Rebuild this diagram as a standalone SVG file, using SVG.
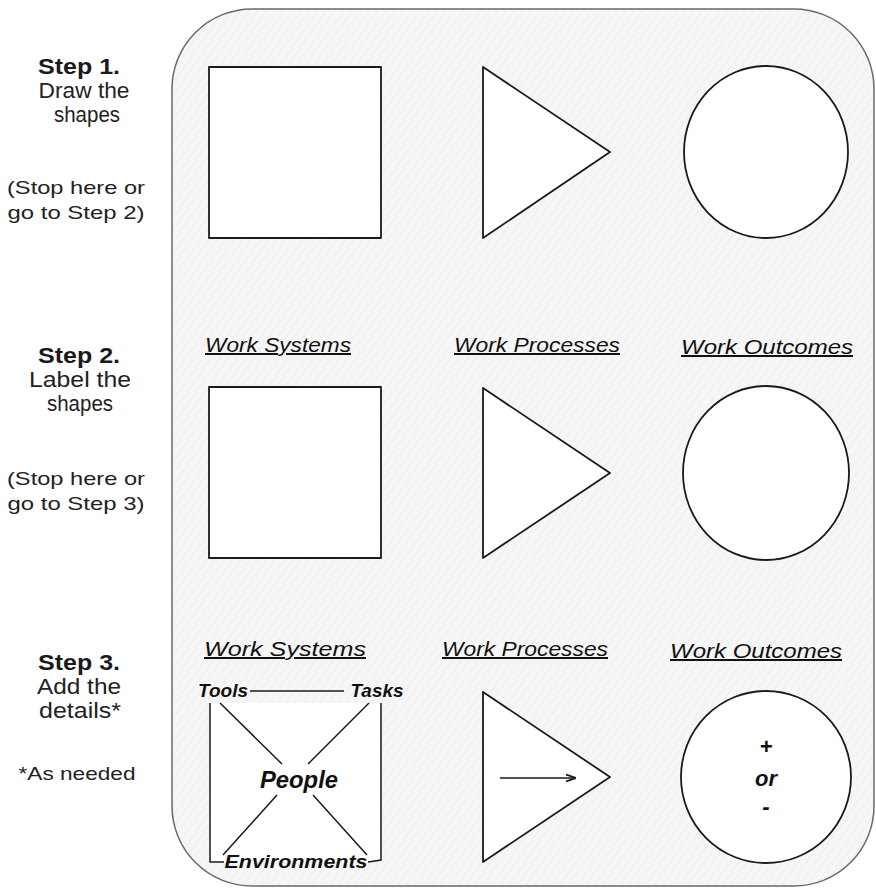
<svg xmlns="http://www.w3.org/2000/svg" width="876" height="895" viewBox="0 0 876 895">
<defs>
<pattern id="hatch" patternUnits="userSpaceOnUse" width="7" height="7" patternTransform="rotate(35)">
<rect width="7" height="7" fill="#f6f6f6"/>
<line x1="0" y1="0" x2="0" y2="7" stroke="#e6e6e6" stroke-width="1"/>
</pattern>
<marker id="arr" viewBox="0 0 10 10" refX="9" refY="5" markerWidth="10" markerHeight="10" orient="auto" markerUnits="userSpaceOnUse">
<path d="M0,1.5 L10,5 L0,8.5" fill="none" stroke="#1a1a1a" stroke-width="1.8"/>
</marker>
</defs>
<style>
.step{font-family:"Liberation Sans",Arial,sans-serif;font-size:22px;font-weight:bold;fill:#1a1a1a;text-anchor:middle}
.desc{font-family:"Liberation Sans",Arial,sans-serif;font-size:22px;fill:#222;text-anchor:middle}
.note{font-family:"Liberation Sans",Arial,sans-serif;font-size:19px;fill:#222;text-anchor:middle}
.lbl{font-family:"Liberation Sans",Arial,sans-serif;font-style:italic;font-size:20px;fill:#111;text-anchor:middle;text-decoration:underline}
.hw{font-family:"Liberation Sans",Arial,sans-serif;font-style:italic;font-weight:bold;fill:#111;text-anchor:middle}
.shape{fill:#fff;stroke:#1a1a1a;stroke-width:1.8;stroke-linejoin:round}
.ln{stroke:#1a1a1a;stroke-width:1.5;fill:none}
</style>
<rect width="876" height="895" fill="#fff"/>
<g id="container">
<rect x="172" y="9" width="702" height="877" rx="80" ry="80" fill="url(#hatch)" stroke="#6a6a6a" stroke-width="1.5"/>
</g>
<g id="steps">
<text class="step" x="79" y="74" textLength="82" lengthAdjust="spacingAndGlyphs">Step 1.</text>
<text class="desc" x="84" y="98" textLength="91" lengthAdjust="spacingAndGlyphs">Draw the</text>
<text class="desc" x="87" y="122" textLength="66" lengthAdjust="spacingAndGlyphs">shapes</text>
<text class="note" x="76" y="194" textLength="138" lengthAdjust="spacingAndGlyphs">(Stop here or</text>
<text class="note" x="76" y="219" textLength="137" lengthAdjust="spacingAndGlyphs">go to Step 2)</text>
<text class="step" x="79" y="363" textLength="82" lengthAdjust="spacingAndGlyphs">Step 2.</text>
<text class="desc" x="80" y="387" textLength="102" lengthAdjust="spacingAndGlyphs">Label the</text>
<text class="desc" x="80" y="411" textLength="66" lengthAdjust="spacingAndGlyphs">shapes</text>
<text class="note" x="76" y="485" textLength="138" lengthAdjust="spacingAndGlyphs">(Stop here or</text>
<text class="note" x="76" y="510" textLength="137" lengthAdjust="spacingAndGlyphs">go to Step 3)</text>
<text class="step" x="79" y="670" textLength="82" lengthAdjust="spacingAndGlyphs">Step 3.</text>
<text class="desc" x="79" y="694" textLength="84" lengthAdjust="spacingAndGlyphs">Add the</text>
<text class="desc" x="80" y="718" textLength="82" lengthAdjust="spacingAndGlyphs">details*</text>
<text class="note" x="77" y="780" textLength="117" lengthAdjust="spacingAndGlyphs">*As needed</text>
</g>
<g id="row1">
<g id="square1"><rect class="shape" x="209" y="67" width="172" height="171"/></g>
<g id="triangle1"><polygon class="shape" points="483,67 610,152 483,238"/></g>
<g id="circle1"><ellipse class="shape" cx="766" cy="152" rx="82" ry="86"/></g>
</g>
<g id="row2">
<g id="label-ws2"><text class="lbl" x="278" y="352" textLength="146" lengthAdjust="spacingAndGlyphs">Work Systems</text></g>
<g id="label-wp2"><text class="lbl" x="537" y="352" textLength="166" lengthAdjust="spacingAndGlyphs">Work Processes</text></g>
<g id="label-wo2"><text class="lbl" x="767" y="354" textLength="172" lengthAdjust="spacingAndGlyphs">Work Outcomes</text></g>
<g id="square2"><rect class="shape" x="209" y="387" width="172" height="171"/></g>
<g id="triangle2"><polygon class="shape" points="483,388 610,473 483,558"/></g>
<g id="circle2"><ellipse class="shape" cx="766" cy="473" rx="83" ry="87"/></g>
</g>
<g id="row3">
<g id="label-ws3"><text class="lbl" x="285" y="656" textLength="162" lengthAdjust="spacingAndGlyphs">Work Systems</text></g>
<g id="label-wp3"><text class="lbl" x="525" y="656" textLength="166" lengthAdjust="spacingAndGlyphs">Work Processes</text></g>
<g id="label-wo3"><text class="lbl" x="756" y="658" textLength="172" lengthAdjust="spacingAndGlyphs">Work Outcomes</text></g>
<g id="square3">
<polygon points="210,703 381,703 381,862 210,862" fill="#fff" stroke="none"/>
<text class="hw" x="223" y="697" font-size="18" textLength="50" lengthAdjust="spacingAndGlyphs">Tools</text>
<text class="hw" x="377" y="697" font-size="18" textLength="53" lengthAdjust="spacingAndGlyphs">Tasks</text>
<text class="hw" x="299" y="788" font-size="24" textLength="78" lengthAdjust="spacingAndGlyphs">People</text>
<text class="hw" x="296" y="868" font-size="19" textLength="143" lengthAdjust="spacingAndGlyphs">Environments</text>
</g>
<g id="triangle3"><polygon class="shape" points="483,692 610,777 483,862"/></g>
<g id="circle3">
<ellipse class="shape" cx="766" cy="777" rx="85" ry="86"/>
<text class="hw" x="766" y="754" font-size="22">+</text>
<text class="hw" x="766" y="786" font-size="22">or</text>
<text class="hw" x="766" y="814" font-size="22">-</text>
</g>
</g>
<g id="connectors">
<line class="ln" x1="250" y1="691" x2="344" y2="691"/>
<path class="ln" d="M210,703 L210,862 L224,862"/>
<path class="ln" d="M381,703 L381,860 L368,862"/>
<line class="ln" x1="220" y1="703" x2="282" y2="764"/>
<line class="ln" x1="369" y1="703" x2="308" y2="764"/>
<line class="ln" x1="277" y1="795" x2="223" y2="855"/>
<line class="ln" x1="313" y1="795" x2="367" y2="855"/>
<line class="ln" x1="500" y1="778" x2="575" y2="778" marker-end="url(#arr)"/>
</g>
</svg>
